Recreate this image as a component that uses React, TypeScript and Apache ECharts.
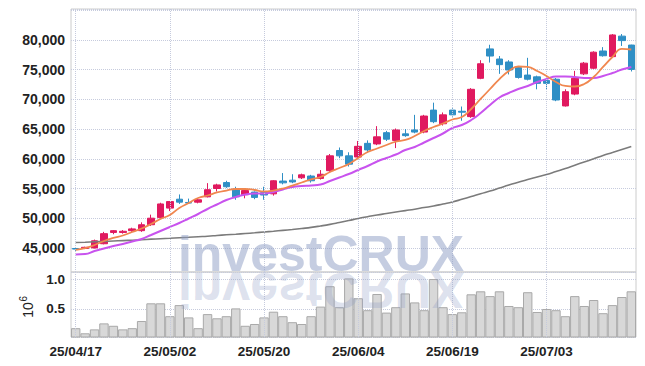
import React, { useEffect, useRef } from "react";
import * as echarts from "echarts";

const dates = [
  "25/04/17","25/04/18","25/04/21","25/04/22","25/04/23","25/04/24","25/04/25","25/04/28","25/04/29","25/04/30",
  "25/05/02","25/05/07","25/05/08","25/05/09","25/05/12","25/05/13","25/05/14","25/05/15","25/05/16","25/05/19",
  "25/05/20","25/05/21","25/05/22","25/05/23","25/05/26","25/05/27","25/05/28","25/05/29","25/05/30","25/06/02",
  "25/06/04","25/06/05","25/06/09","25/06/10","25/06/11","25/06/12","25/06/13","25/06/16","25/06/17","25/06/18",
  "25/06/19","25/06/20","25/06/23","25/06/24","25/06/25","25/06/26","25/06/27","25/06/30","25/07/01","25/07/02",
  "25/07/03","25/07/04","25/07/07","25/07/08","25/07/09","25/07/10","25/07/11","25/07/14","25/07/15","25/07/16",
];

// [open, close, low, high]
const ohlc = [
  [44900, 44800, 44500, 45100],[44900, 45100, 44800, 45200],[45000, 46200, 44900, 46400],[45700, 47400, 45600, 47700],
  [47600, 47900, 47300, 48000],[47600, 47800, 47400, 48000],[47900, 48200, 47700, 48400],[47900, 48900, 47700, 49300],
  [48900, 50000, 48700, 50600],[50100, 52400, 50000, 52600],[51700, 52800, 51200, 52900],[53200, 52700, 52400, 54000],
  [52650, 52550, 52400, 53300],[52700, 53100, 52500, 53300],[53600, 54800, 53500, 55900],[55000, 55600, 54500, 55800],
  [56000, 55300, 55100, 56300],[54900, 53600, 53100, 55300],[53950, 54650, 53350, 55000],[54400, 53500, 53200, 54500],
  [54300, 53900, 53100, 55300],[54100, 56300, 53800, 56400],[56250, 55950, 55700, 57600],[56400, 56100, 55900, 57400],
  [56800, 57300, 56600, 57500],[57100, 56300, 56000, 57300],[56700, 57400, 56500, 58100],[58000, 60500, 57800, 60800],
  [61400, 60500, 60100, 61900],[60500, 59100, 58700, 61100],[60300, 62100, 60100, 63000],[62600, 61500, 61000, 63100],
  [62500, 63700, 62300, 65500],[64400, 63300, 63000, 64700],[63100, 64850, 61800, 65100],[64200, 63900, 63700, 65000],
  [64850, 64500, 64300, 67400],[64500, 67200, 64300, 67400],[68200, 66250, 66000, 69450],[65900, 67400, 65600, 67800],
  [68200, 67400, 67100, 68500],[68000, 67850, 66400, 68800],[67100, 71700, 66900, 71900],[73550, 76000, 73400, 76600],
  [78500, 77300, 76200, 79200],[76800, 75850, 74300, 77300],[76300, 74950, 74200, 76600],[75350, 73700, 73500, 75600],
  [74100, 73400, 73200, 77000],[73800, 72700, 71700, 74000],[73200, 72700, 71600, 74100],[73400, 69900, 69700, 73600],
  [68900, 71300, 68800, 71700],[70900, 73550, 70700, 74800],[74300, 76100, 74100, 76300],[75250, 77950, 75100, 78100],
  [78150, 77350, 77200, 78800],[77200, 80850, 77000, 81000],[80650, 79900, 79000, 81000],[79150, 75050, 74700, 79200],
];

const ma5 = [
  44650, 44980, 45490, 46160, 46670, 47090, 47680, 48270, 49020, 49870,
  50540, 51720, 52560, 53400, 53820, 54330, 54660, 54920, 54920, 54750,
  54500, 54660, 55000, 55500, 56010, 56520, 56940, 57780, 58450, 59130,
  60140, 61150, 61730, 62320, 62910, 63170, 63840, 64680, 65350, 65940,
  66620, 67040, 68380, 70070, 71750, 73430, 74780, 75540, 75460, 74780,
  73940, 72930, 72260, 72170, 72590, 73770, 75460, 77140, 78490, 78400,
];

const ma20 = [
  43890, 43970, 44480, 44900, 45320, 45660, 46080, 46500, 47170, 47850,
  48520, 49190, 49950, 50710, 51550, 52310, 53060, 53570, 53990, 54160,
  54160, 54410, 54830, 55250, 55420, 55510, 55670, 56260, 56850, 57440,
  58120, 58790, 59550, 60140, 60720, 61480, 61990, 62740, 63500, 64260,
  65190, 65690, 66530, 67710, 69060, 70320, 71080, 71750, 72260, 72930,
  73430, 73860, 73860, 73770, 73600, 73600, 73940, 74440, 75030, 75460,
];

const ma120 = [
  45910, 45960, 46030, 46090, 46160, 46230, 46300, 46380, 46470, 46550,
  46630, 46720, 46800, 46890, 46970, 47090, 47210, 47310, 47420, 47540,
  47680, 47810, 47950, 48100, 48270, 48450, 48690, 48960, 49280, 49610,
  49950, 50250, 50540, 50790, 51040, 51280, 51520, 51790, 52050, 52390,
  52730, 53180, 53650, 54130, 54580, 55080, 55590, 56060, 56520, 56940,
  57360, 57860, 58370, 58920, 59460, 60000, 60560, 61060, 61570, 62070,
];

const volumes = [
  180000, 95000, 160000, 260000, 220000, 160000, 180000, 300000, 595000, 595000,
  380000, 565000, 360000, 180000, 415000, 345000, 380000, 510000, 220000, 250000,
  360000, 455000, 380000, 280000, 250000, 380000, 540000, 880000, 530000, 1010000,
  680000, 480000, 750000, 440000, 530000, 760000, 610000, 480000, 1000000, 530000,
  415000, 445000, 745000, 795000, 715000, 795000, 550000, 530000, 780000, 450000,
  500000, 480000, 380000, 715000, 550000, 650000, 430000, 565000, 700000, 795000,
];

const priceTicks = [45000, 50000, 55000, 60000, 65000, 70000, 75000, 80000];
const volumeTicks = [0.5, 1.0];

const UP = "#e0195f";
const DOWN = "#2f8fc5";
const GRIDC = "#c6cbdd";
const LABEL_FONT = "'Liberation Sans Narrow', 'Arial Narrow', 'Liberation Sans', Arial, sans-serif";

const fmt = (v: number) => String(Math.round(v)).replace(/\B(?=(\d{3})+(?!\d))/g, ",");

export default function App() {
  const ref = useRef<HTMLDivElement>(null);
  useEffect(() => {
    if (!ref.current) return;
    const chart = echarts.init(ref.current, undefined, { renderer: "svg" });
    const labelDates = dates.filter((_, i) => i % 10 === 0);
    const vLines = {
      silent: true,
      symbol: ["none", "none"],
      label: { show: false },
      emphasis: { disabled: true },
      lineStyle: { type: "dotted", color: GRIDC, width: 1 },
      data: labelDates.map((d) => ({ xAxis: d })),
    };
    const wmStyle = {
      text: "investCRUX", x: 0, y: -18, textAlign: "center", textVerticalAlign: "middle",
      fontSize: 50, fontWeight: "bold", fontFamily: "'Liberation Sans', Arial, sans-serif",
    };
    chart.setOption({
      animation: false,
      backgroundColor: "#ffffff",
      grid: [
        { left: 71, right: 9, top: 9, height: 263, show: true, borderColor: "#cccccc", borderWidth: 1 },
        { left: 71, right: 9, top: 272, height: 65, show: true, borderColor: "#cccccc", borderWidth: 1 },
      ],
      xAxis: [
        {
          type: "category", gridIndex: 0, data: dates, boundaryGap: true,
          axisLine: { show: false }, axisTick: { show: false }, axisLabel: { show: false }, splitLine: { show: false },
        },
        {
          type: "category", gridIndex: 1, data: dates, boundaryGap: true,
          axisLine: { show: false }, axisTick: { show: false }, splitLine: { show: false },
          axisLabel: {
            interval: 9, margin: 7, color: "#222222", fontSize: 13.5, fontWeight: "bold", fontFamily: LABEL_FONT,
          },
        },
      ],
      yAxis: [
        {
          type: "value", gridIndex: 0, min: 40943, max: 85219, splitNumber: 9,
          axisLine: { show: false }, axisTick: { show: false },
          splitLine: { lineStyle: { type: "dotted", color: GRIDC } },
          axisLabel: {
            showMinLabel: false, showMaxLabel: false, margin: 6,
            color: "#222222", fontSize: 14, fontWeight: "bold", fontFamily: LABEL_FONT,
            formatter: (v: number) => (priceTicks.includes(v) ? fmt(v) : ""),
          },
        },
        {
          type: "value", gridIndex: 1, min: 33000, max: 1117000, splitNumber: 2,
          axisLine: { show: false }, axisTick: { show: false },
          splitLine: { lineStyle: { type: "dotted", color: GRIDC } },
          axisLabel: {
            showMinLabel: false, showMaxLabel: false, margin: 6,
            color: "#222222", fontSize: 13.5, fontWeight: "bold", fontFamily: LABEL_FONT,
            formatter: (v: number) => (volumeTicks.includes(v / 1e6) ? (v / 1e6).toFixed(1) : ""),
          },
        },
      ],
      series: [
        {
          type: "candlestick", xAxisIndex: 0, yAxisIndex: 0, data: ohlc, barWidth: 7,
          itemStyle: { color: UP, color0: DOWN, borderColor: UP, borderColor0: DOWN, borderWidth: 1 },
          markLine: vLines, z: 3,
        },
        {
          type: "line", xAxisIndex: 0, yAxisIndex: 0, data: ma120, smooth: true, symbol: "none",
          lineStyle: { color: "#7b7b7b", width: 1.6 }, z: 4,
        },
        {
          type: "line", xAxisIndex: 0, yAxisIndex: 0, data: ma20, smooth: true, symbol: "none",
          lineStyle: { color: "#c853ee", width: 2 }, z: 4,
        },
        {
          type: "line", xAxisIndex: 0, yAxisIndex: 0, data: ma5, smooth: true, symbol: "none",
          lineStyle: { color: "#f0874f", width: 1.8 }, z: 5,
        },
        {
          type: "bar", xAxisIndex: 1, yAxisIndex: 1, data: volumes, barWidth: "100%", barCategoryGap: 0,
          itemStyle: { color: "#d8d8d8", borderColor: "#a9a9a9", borderWidth: 1 },
          markLine: vLines,
        },
      ],
      graphic: [
        {
          type: "text", x: 321, y: 272, z: 100, silent: true,
          style: { ...wmStyle, fill: "rgba(140,155,195,0.5)" },
        },
        {
          type: "text", x: 321, y: 272, scaleY: -1, z: 100, silent: true,
          style: { ...wmStyle, fill: "rgba(140,155,195,0.3)" },
        },
        {
          type: "group", x: 35, y: 310, rotation: Math.PI / 2,
          children: [
            { type: "text", x: 0, y: 0, style: { text: "10", textAlign: "center", textVerticalAlign: "bottom", fontSize: 14, fontFamily: LABEL_FONT, fill: "#222222" } },
            { type: "text", x: 8.5, y: -7, style: { text: "6", textAlign: "left", textVerticalAlign: "bottom", fontSize: 10, fontFamily: LABEL_FONT, fill: "#222222" } },
          ],
        },
      ],
    });
    return () => chart.dispose();
  }, []);
  return <div ref={ref} style={{ width: 645, height: 366, margin: -8 }} />;
}
